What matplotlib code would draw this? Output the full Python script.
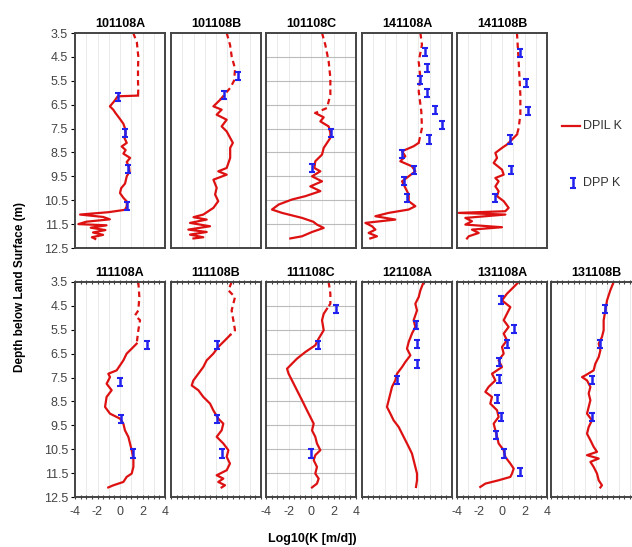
import numpy as np
from matplotlib import pyplot as plt

plt.rcParams['font.family'] = ['Liberation Sans', 'DejaVu Sans']

# DPIL K profiles: (depth m, log10 K)
prof_101108A = [(3.5, 1.18), (3.9, 1.5), (4.5, 1.63), (5.0, 1.6), (5.5, 1.6), (5.9, 1.62), (6.12, 1.6),
                (6.15, -0.2), (6.35, -0.5), (6.57, -0.9), (6.71, -0.6), (6.85, -0.4), (7.1, 0.0), (7.3, 0.3),
                (7.5, 0.45), (7.7, 0.5), (7.9, 0.4), (8.1, 0.6), (8.25, 0.15), (8.4, 0.5), (8.55, 0.3),
                (8.73, 0.9), (8.9, 0.6), (9.1, 0.8), (9.3, 0.85), (9.5, 0.6), (9.8, 0.45), (10.0, 0.1),
                (10.2, 0.0), (10.4, 0.3), (10.55, 0.6), (10.75, 0.6), (10.9, 0.45), (11.0, -1.0), (11.1, -3.55),
                (11.2, -1.5), (11.3, -0.9), (11.4, -3.0), (11.5, -3.7), (11.55, -1.2), (11.65, -2.6),
                (11.75, -1.3), (11.85, -2.4), (11.95, -1.5), (12.05, -2.5), (12.12, -2.2)]
prof_101108B = [(3.5, 0.95), (4.0, 1.25), (4.5, 1.4), (5.0, 1.7), (5.5, 1.6), (5.8, 1.26), (6.0, 0.9),
                (6.3, 0.36), (6.57, -0.23), (6.71, 0.5), (6.92, 0.06), (7.13, 0.95), (7.41, 0.5), (7.62, 0.95),
                (7.89, 1.26), (8.1, 1.5), (8.31, 1.26), (8.73, 1.26), (9.15, 0.95), (9.29, 0.2), (9.43, 0.95),
                (9.64, -0.23), (9.98, 0.06), (10.26, -0.08), (10.54, 0.2), (10.82, -0.23), (11.1, -1.13),
                (11.21, -2.0), (11.31, -0.83), (11.45, -2.31), (11.59, -0.53), (11.73, -2.46), (11.83, -0.83),
                (11.94, -2.31), (12.05, -1.13), (12.1, -2.0)]
prof_101108C = [(3.5, 0.98), (3.99, 1.27), (4.69, 1.57), (5.38, 1.72), (6.08, 1.72), (6.64, 1.42), (6.85, 0.38),
                (7.03, 1.13), (7.2, 0.83), (7.41, 1.57), (7.68, 1.72), (7.89, 1.72), (8.31, 1.13), (8.59, 0.98),
                (8.87, 0.38), (9.15, 0.3), (9.29, 0.83), (9.5, 0.09), (9.71, 0.98), (9.92, -0.06), (10.12, 0.83),
                (10.33, -0.5), (10.47, -1.69), (10.68, -2.87), (10.89, -3.47), (11.03, -2.58), (11.24, -0.8),
                (11.4, 0.2), (11.52, 0.53), (11.66, 1.13), (11.83, 0.09), (12.01, -0.8), (12.1, -1.84)]
prof_141108A = [(3.5, 1.19), (3.99, 1.33), (4.69, 1.04), (5.38, 1.19), (5.94, 1.04), (6.78, 1.27), (7.48, 1.33),
                (8.1, 1.04), (8.24, 0.59), (8.45, -0.44), (8.66, -0.15), (8.87, -0.59), (9.08, 0.44), (9.29, 0.74),
                (9.5, 0.15), (9.71, -0.44), (9.98, -0.15), (10.26, 0.15), (10.54, 0.15), (10.75, 0.74),
                (10.89, 0.15), (11.03, -1.63), (11.17, -2.81), (11.31, -1.04), (11.45, -3.7), (11.59, -3.11),
                (11.73, -2.81), (11.87, -3.41), (12.01, -2.67), (12.1, -3.26)]
prof_141108B = [(3.5, 1.33), (4.69, 1.48), (6.08, 1.63), (6.92, 1.63), (7.48, 1.48), (7.75, 1.33), (7.96, 0.89),
                (8.17, 0.44), (8.31, 0.0), (8.52, -0.59), (8.73, -0.44), (8.94, -0.74), (9.22, 0.0), (9.43, 0.15),
                (9.57, -0.59), (9.71, -0.3), (9.92, -0.59), (10.12, -0.3), (10.33, -0.44), (10.54, 0.15),
                (10.82, 0.59), (10.96, 0.3), (11.03, -3.85), (11.1, 0.3), (11.24, -3.26), (11.38, -2.67),
                (11.52, -3.26), (11.63, 0.0), (11.73, -2.67), (11.87, -2.07), (12.01, -2.96), (12.1, -3.11)]
prof_111108A = [(3.5, 1.63), (4.13, 1.72), (4.69, 1.63), (4.9, 1.33), (5.1, 1.78), (5.52, 1.63), (6.08, 1.48),
                (6.29, 1.04), (6.5, 0.59), (6.78, 0.3), (6.99, 0.0), (7.2, -0.3), (7.34, -1.04), (7.48, -0.89),
                (7.76, -1.19), (8.03, -0.74), (8.31, -1.19), (8.73, -1.33), (9.01, -0.89), (9.22, 0.0),
                (9.43, 0.3), (9.71, 0.44), (9.98, 0.74), (10.26, 0.89), (10.54, 1.04), (10.89, 1.19),
                (11.24, 1.19), (11.52, 1.04), (11.66, 0.59), (11.87, 0.3), (12.01, -0.59), (12.1, -1.04)]
prof_111108B = [(3.5, 1.39), (3.85, 1.1), (4.13, 1.69), (4.69, 1.39), (5.1, 1.54), (5.52, 1.69), (5.73, 1.24),
                (5.94, 0.8), (6.22, 0.2), (6.5, -0.24), (6.78, -0.83), (7.06, -1.13), (7.34, -1.57), (7.62, -2.01),
                (7.83, -2.16), (8.03, -1.57), (8.31, -1.13), (8.59, -0.53), (8.87, -0.24), (9.22, 0.2),
                (9.43, 0.65), (9.71, 0.5), (9.98, 0.06), (10.26, 0.65), (10.54, 1.1), (10.82, 0.95),
                (11.1, 1.24), (11.38, 0.95), (11.59, 0.06), (11.73, 0.65), (11.87, 0.2), (12.01, 0.8), (12.1, 0.5)]
prof_111108C = [(3.5, 1.57), (3.99, 1.72), (4.41, 1.72), (4.62, 1.42), (4.83, 1.13), (5.1, 0.98), (5.52, 1.13),
                (5.87, 0.68), (6.15, 0.38), (6.43, -0.5), (6.71, -1.25), (6.92, -1.69), (7.13, -2.13),
                (7.34, -1.99), (7.62, -1.69), (8.03, -1.25), (8.31, -0.95), (8.59, -0.65), (8.87, -0.36),
                (9.15, -0.06), (9.43, 0.24), (9.71, 0.09), (9.98, 0.38), (10.26, 0.53), (10.54, 0.83),
                (10.75, 0.38), (10.96, 0.24), (11.24, 0.53), (11.52, 0.38), (11.73, 0.68), (11.94, 0.53), (12.1, 0.09)]
prof_121108A = [(3.5, 1.48), (3.85, 1.19), (4.13, 1.04), (4.41, 0.74), (4.69, 0.89), (5.1, 0.59), (5.38, 0.74),
                (5.66, 0.44), (6.01, 0.15), (6.29, 0.0), (6.57, 0.3), (6.85, -0.15), (7.06, -0.44), (7.34, -0.89),
                (7.62, -1.04), (7.89, -1.33), (8.17, -1.48), (8.45, -1.63), (8.73, -1.78), (9.01, -1.48),
                (9.29, -1.19), (9.57, -0.74), (9.85, -0.44), (10.12, -0.15), (10.4, 0.15), (10.68, 0.44),
                (10.96, 0.59), (11.24, 0.74), (11.52, 0.89), (11.8, 0.89), (12.08, 0.8)]
prof_131108A = [(3.5, 1.48), (3.71, 1.04), (3.99, 0.44), (4.27, 0.0), (4.55, 0.74), (4.83, 0.44), (5.1, 0.15),
                (5.38, 0.59), (5.66, 0.15), (5.94, 0.44), (6.22, 0.0), (6.5, 0.15), (6.78, -0.3), (7.06, 0.0),
                (7.34, -0.89), (7.62, -0.59), (7.89, -1.19), (8.1, -1.48), (8.31, -0.89), (8.59, -1.04),
                (8.87, -0.44), (9.15, -0.3), (9.43, -0.74), (9.71, -0.59), (9.98, -0.44), (10.26, -0.3),
                (10.54, 0.15), (10.82, 0.29), (11.1, 0.74), (11.31, 1.04), (11.52, 0.89), (11.66, 0.74),
                (11.8, -0.3), (11.94, -1.48), (12.08, -1.93)]
prof_131108B = [(3.5, 1.57), (3.85, 1.27), (4.27, 0.98), (4.69, 0.83), (5.1, 0.68), (5.52, 0.68), (5.8, 0.53),
                (6.08, 0.24), (6.36, 0.39), (6.64, 0.24), (6.92, -0.06), (7.2, -0.21), (7.41, -0.95), (7.48, -1.24),
                (7.62, -0.8), (7.89, -0.5), (8.17, -0.65), (8.45, -0.5), (8.73, -0.65), (9.01, -0.8), (9.29, -0.36),
                (9.57, -0.65), (9.85, -0.8), (10.12, -0.5), (10.4, -0.21), (10.61, 0.09), (10.75, -0.8),
                (10.89, 0.24), (11.03, -0.5), (11.24, -0.21), (11.52, 0.09), (11.8, 0.24), (12.01, 0.53), (12.1, 0.39)]

# DPP K tests: (depth m, log10 K)
dpp_101108A = [(6.18, -0.18), (7.68, 0.44), (9.19, 0.71), (10.74, 0.62)]
dpp_101108B = [(5.31, 1.98), (6.08, 0.71)]
dpp_101108C = [(7.68, 1.81), (9.15, 0.09)]
dpp_141108A = [(4.28, 1.57), (4.96, 1.78), (5.45, 1.19), (6.01, 1.78), (6.71, 2.52), (7.34, 3.11),
               (7.96, 1.93), (8.56, -0.44), (9.22, 0.59), (9.7, -0.3), (10.4, 0.0)]
dpp_141108B = [(4.34, 1.63), (5.59, 2.13), (6.78, 2.31), (7.96, 0.74), (9.22, 0.83), (10.4, -0.6)]
dpp_111108A = [(6.15, 2.37), (7.68, 0.0), (9.22, 0.09), (10.68, 1.13)]
dpp_111108B = [(6.15, 0.06), (9.22, 0.06), (10.68, 0.5)]
dpp_111108C = [(4.62, 2.22), (6.15, 0.62), (10.68, 0.03)]
dpp_121108A = [(5.31, 0.8), (6.08, 0.89), (6.92, 0.89), (7.61, -0.89)]
dpp_131108A = [(4.27, -0.06), (5.45, 1.04), (6.08, 0.44), (6.85, -0.3), (7.55, -0.24), (8.38, -0.44),
               (9.15, -0.09), (9.92, -0.5), (10.68, 0.15), (11.45, 1.63)]
dpp_131108B = [(4.62, 0.77), (6.08, 0.38), (7.61, -0.36), (9.15, -0.36)]

# depth down to which the DPIL profile is drawn dashed (None = all solid)
top_wells = ["101108A", "101108B", "101108C", "141108A", "141108B"]
bottom_wells = ["111108A", "111108B", "111108C", "121108A", "131108A", "131108B"]
dash_end_top = [6.12, 6.3, 6.85, 8.1, 7.75]
dash_end_bottom = [6.08, 5.73, 4.62, None, None, None]

depth_ticks = [3.5, 4.5, 5.5, 6.5, 7.5, 8.5, 9.5, 10.5, 11.5, 12.5]
k_ticks = [-4, -2, 0, 2, 4]

profiles = {
    "101108A": (prof_101108A, dpp_101108A), "101108B": (prof_101108B, dpp_101108B),
    "101108C": (prof_101108C, dpp_101108C), "141108A": (prof_141108A, dpp_141108A),
    "141108B": (prof_141108B, dpp_141108B), "111108A": (prof_111108A, dpp_111108A),
    "111108B": (prof_111108B, dpp_111108B), "111108C": (prof_111108C, dpp_111108C),
    "121108A": (prof_121108A, dpp_121108A), "131108A": (prof_131108A, dpp_131108A),
    "131108B": (prof_131108B, dpp_131108B),
}

RED = '#dd1111'
BLUE = '#2222ee'
W, H = 632, 547
LW = 1.6


def draw_panel(ax, name, dash_end, row, col):
    prof, dpp = profiles[name]
    d = np.array([p[0] for p in prof])
    k = np.array([p[1] for p in prof])
    if dash_end is None:
        ax.plot(k, d, color=RED, lw=LW)
    else:
        top = d <= dash_end + 1e-6
        ax.plot(k[top], d[top], color=RED, lw=LW, dashes=(2.5, 1.8))
        bot = d >= dash_end - 1e-6
        ax.plot(k[bot], d[bot], color=RED, lw=LW)
    dd = [p[0] for p in dpp]
    dk = [p[1] for p in dpp]
    ax.errorbar(dk, dd, yerr=0.17, fmt='none', ecolor=BLUE, elinewidth=1.8,
                capsize=2.5, capthick=1.5, zorder=5)

    ax.set_xlim(-4, 4)
    ax.set_ylim(12.5, 3.5)
    for x in range(-3, 4):
        ax.axvline(x, color='#e6e6e6', lw=0.6, zorder=0)
    if name in ("101108C", "111108C"):
        for y in depth_ticks[1:-1]:
            ax.axhline(y, color='#bbbbbb', lw=0.8, zorder=0)
    for s in ax.spines.values():
        s.set_color('#444444')
        s.set_linewidth(1.4)

    ax.set_title(name, fontsize=9, fontweight='bold', pad=4)

    ax.set_yticks(depth_ticks)
    if col == 0:
        ax.set_yticklabels([f"{t:.1f}" for t in depth_ticks], fontsize=9, color='#444444')
        ax.tick_params(axis='y', length=3, width=0.8, direction='out', pad=2)
    else:
        ax.tick_params(axis='y', left=False, labelleft=False)

    if row == 1:
        ax.set_xticks(k_ticks)
        ax.set_xticks(np.arange(-4, 4.01, 0.5), minor=True)
        ax.tick_params(axis='x', which='both', length=3, width=0.8, direction='inout',
                       top=True, color='#444444', pad=5)
        if name in ("111108A", "111108C", "131108A"):
            ax.set_xticklabels([str(t) for t in k_ticks], fontsize=9, color='#444444')
        else:
            ax.tick_params(axis='x', labelbottom=False)
    else:
        ax.tick_params(axis='x', which='both', bottom=False, labelbottom=False)


fig = plt.figure(figsize=(W / 100, H / 100), dpi=100)

lefts = [75, 171, 266, 362, 457, 551]
pw = 90
rows = [(33, 248), (282, 497)]

for row, (wells, ends) in enumerate([(top_wells, dash_end_top), (bottom_wells, dash_end_bottom)]):
    ytop, ybot = rows[row]
    for col, name in enumerate(wells):
        rect = [lefts[col] / W, 1 - ybot / H, pw / W, (ybot - ytop) / H]
        ax = fig.add_axes(rect)
        draw_panel(ax, name, ends[col], row, col)

# legend on the right
fig.lines.append(plt.Line2D([562 / W, 580 / W], [1 - 126 / H] * 2, color=RED, lw=LW,
                            transform=fig.transFigure))
fig.text(583 / W, 1 - 126 / H, "DPIL K", fontsize=9, va='center', color='#333333')
lax = fig.add_axes([566 / W, 1 - 193 / H, 14 / W, 20 / H])
lax.errorbar([0], [0], yerr=0.5, fmt='none', ecolor=BLUE, elinewidth=1.8, capsize=2.5, capthick=1.5)
lax.set_xlim(-1, 1)
lax.set_ylim(-1, 1)
lax.axis('off')
fig.text(583 / W, 1 - 183 / H, "DPP K", fontsize=9, va='center', color='#333333')

fig.text(20 / W, 1 - 287 / H, "Depth below Land Surface (m)", rotation=90, fontsize=8.5,
         fontweight='bold', ha='center', va='center')
fig.text(312 / W, 1 - 539 / H, "Log10(K [m/d])", fontsize=9, fontweight='bold',
         ha='center', va='center')

fig.savefig("out.png", dpi=100)
